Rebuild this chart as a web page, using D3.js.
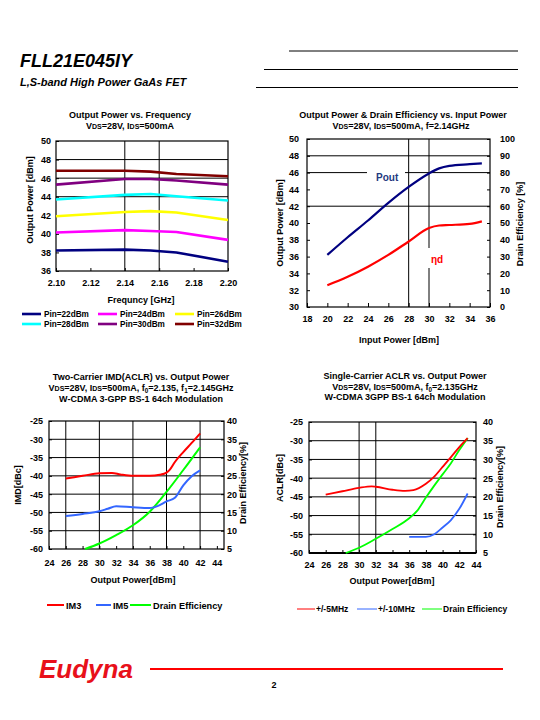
<!DOCTYPE html>
<html><head><meta charset="utf-8">
<script src="https://cdn.jsdelivr.net/npm/d3@7"></script>
<style>
body{margin:0;background:#fff;}
svg text{font-family:"Liberation Sans",Arial,sans-serif;font-weight:bold;fill:#000;}
</style></head><body>
<svg id="c" width="540" height="720"></svg>
<script>
// ---------- Chart 1: Output Power vs. Frequency ----------
const freqGHz = [2.10, 2.14, 2.155, 2.17, 2.20];
const freqTicks = [2.10, 2.12, 2.14, 2.16, 2.18, 2.20];
const pinLabels = ["Pin=22dBm", "Pin=24dBm", "Pin=26dBm", "Pin=28dBm", "Pin=30dBm", "Pin=32dBm"];
const pin22 = [38.2, 38.3, 38.2, 38.0, 37.0];
const pin24 = [40.15, 40.4, 40.3, 40.2, 39.35];
const pin26 = [41.9, 42.35, 42.45, 42.3, 41.5];
const pin28 = [43.7, 44.2, 44.3, 44.05, 43.6];
const pin30 = [45.3, 45.9, 45.9, 45.75, 45.3];
const pin32 = [46.8, 46.8, 46.7, 46.45, 46.2];
const pinColors = ["#000080", "#ff00ff", "#ffff00", "#00ffff", "#800080", "#800000"];

// ---------- Chart 2: Pout & Drain efficiency vs. Input power ----------
const inputPower = [20, 22, 24, 26, 28, 30, 31, 32, 34, 35.2];
const poutDbm = [36.2, 38.3, 40.3, 42.4, 44.3, 45.9, 46.5, 46.8, 47.0, 47.1];
const effPct = [13, 18, 24, 31, 39, 47, 48.5, 48.8, 49.5, 51];
const inputTicks = [18, 20, 22, 24, 26, 28, 30, 32, 34, 36];

// ---------- Chart 3: Two-carrier IMD ----------
const im3X = [26, 28, 30, 31.5, 32.5, 34, 36, 37.2, 38, 38.4, 39, 40, 41, 42];
const im3Y = [-40.7, -40.0, -39.3, -39.2, -39.6, -40.0, -40.0, -39.7, -39.1, -38.3, -36.2, -33.5, -31.0, -28.4];
const im5X = [26, 28, 30, 31, 32, 34, 36, 37, 38, 39, 40, 41, 42];
const im5Y = [-51.0, -50.4, -49.7, -49.0, -48.3, -48.6, -48.8, -48.2, -47.0, -46.0, -42.6, -40.1, -38.5];
const imdEffX = [28.3, 30, 32, 34, 36, 38, 40, 42];
const imdEffY = [5.0, 6.5, 8.8, 11.5, 15.2, 20.6, 26.6, 32.8];

// ---------- Chart 4: Single-carrier ACLR ----------
const aclr5X = [26, 28, 30, 31.5, 32, 34, 35.5, 36.5, 38, 39, 40, 41, 42, 43];
const aclr5Y = [-44.4, -43.5, -42.6, -42.2, -42.3, -43.1, -43.4, -43.2, -41.5, -39.6, -37.0, -34.4, -31.7, -29.3];
const aclr10X = [36, 38, 39, 40, 41, 42, 43];
const aclr10Y = [-55.7, -55.7, -55.0, -53.2, -51.2, -48.2, -44.1];
const aclrEffX = [28.4, 30, 32, 34, 36, 37, 38, 39, 40, 41, 42, 43];
const aclrEffY = [5.0, 6.4, 8.8, 11.4, 14.3, 16.4, 19.8, 23.0, 26.0, 29.0, 32.5, 35.7];

const outTicks = [24, 26, 28, 30, 32, 34, 36, 38, 40, 42, 44];
const aclrTicks = [-60, -55, -50, -45, -40, -35, -30, -25];
const effTicks = [5, 10, 15, 20, 25, 30, 35, 40];

const svg = d3.select("#c");
const zip = (xs, ys) => xs.map((x, i) => [x, ys[i]]);
const plain = d => String(d);

function richText(g, parts, x, y, size, anchor) {
  const t = g.append("text").attr("x", x).attr("y", y).attr("font-size", size)
    .attr("text-anchor", anchor || "middle");
  parts.forEach(p => {
    const ts = t.append("tspan").text(p.t);
    if (p.small) ts.attr("font-size", size * 0.78);
    if (p.sub) ts.attr("font-size", size * 0.7).attr("dy", 2);
    if (p.unsub) ts.attr("dy", -2);
  });
  return t;
}
const VDS = [{t: "V"}, {t: "DS", small: true}, {t: "=28V, I"}, {t: "DS", small: true}, {t: "=500mA"}];

function gridAndFrame(g, x, y, xs, ys, x0, x1, y0, y1) {
  xs.forEach(v => g.append("line").attr("x1", x(v)).attr("x2", x(v)).attr("y1", y0).attr("y2", y1)
    .attr("stroke", "#000").attr("stroke-width", 1));
  ys.forEach(v => g.append("line").attr("x1", x0).attr("x2", x1).attr("y1", y(v)).attr("y2", y(v))
    .attr("stroke", "#000").attr("stroke-width", 1));
}
function frame(g, x0, x1, y0, y1) {
  g.append("rect").attr("x", x0).attr("y", y1).attr("width", x1 - x0).attr("height", y0 - y1)
    .attr("fill", "none").attr("stroke", "#000").attr("stroke-width", 1.2);
}
function styleAxis(a, size) {
  a.select(".domain").remove();
  a.selectAll("line").attr("stroke", "#000");
  a.selectAll("text").attr("font-size", size).attr("font-family", "Liberation Sans, Arial, sans-serif")
    .attr("font-weight", "bold").attr("fill", "#000");
}
function rotLabel(g, text, x, y, size, ang) {
  g.append("text").attr("transform", `translate(${x},${y}) rotate(${ang || -90})`)
    .attr("text-anchor", "middle").attr("font-size", size).text(text);
}

// ===== Header =====
svg.append("text").attr("x", 20).attr("y", 67).attr("font-size", 18).attr("font-style", "italic").text("FLL21E045IY");
svg.append("text").attr("x", 20).attr("y", 86).attr("font-size", 11).attr("font-style", "italic").text("L,S-band High Power GaAs FET");
[[289, 51], [264, 69.5], [256, 87.5]].forEach(([xs, yy]) =>
  svg.append("line").attr("x1", xs).attr("x2", 518).attr("y1", yy).attr("y2", yy).attr("stroke", "#000").attr("stroke-width", 1));

// ===== Chart 1 =====
{
  const g = svg.append("g");
  const X0 = 56, X1 = 228, Y0 = 271, Y1 = 141;
  const x = d3.scaleLinear([2.10, 2.20], [X0, X1]);
  const y = d3.scaleLinear([36, 50], [Y0, Y1]);
  gridAndFrame(g, x, y, [2.14, 2.16], [44, 46, 48], X0, X1, Y0, Y1);
  frame(g, X0, X1, Y0, Y1);
  styleAxis(g.append("g").attr("transform", `translate(0,${Y0})`)
    .call(d3.axisBottom(x).tickValues(freqTicks).tickFormat(d3.format(".2f")).tickSize(-3).tickPadding(9)), 9);
  styleAxis(g.append("g").attr("transform", `translate(${X0},0)`)
    .call(d3.axisLeft(y).tickValues(d3.range(36, 51, 2)).tickFormat(plain).tickSize(-3).tickPadding(5)), 9);
  const series = [pin22, pin24, pin26, pin28, pin30, pin32];
  const line = d3.line().x(d => x(d[0])).y(d => y(d[1]));
  series.forEach((s, i) => g.append("path").attr("d", line(zip(freqGHz, s))).attr("fill", "none")
    .attr("stroke", pinColors[i]).attr("stroke-width", 2.6).attr("stroke-linejoin", "round"));
  richText(g, [{t: "Output Power vs. Frequency"}], 130, 118, 9);
  richText(g, VDS, 130, 129, 9);
  g.append("text").attr("x", 141).attr("y", 303).attr("text-anchor", "middle").attr("font-size", 9).text("Frequncy [GHz]");
  rotLabel(g, "Output Power [dBm]", 33, 200, 9);
  // legend
  const lx = [22, 98, 175], ly = [314, 324];
  pinLabels.forEach((lab, i) => {
    const cx = lx[i % 3], cy = ly[Math.floor(i / 3)];
    g.append("line").attr("x1", cx).attr("x2", cx + 19).attr("y1", cy).attr("y2", cy)
      .attr("stroke", pinColors[i]).attr("stroke-width", 2.6);
    g.append("text").attr("x", cx + 22).attr("y", cy + 3).attr("font-size", 8.2).text(lab);
  });
}

// ===== Chart 2 =====
{
  const g = svg.append("g");
  const X0 = 307, X1 = 490, Y0 = 307, Y1 = 139;
  const x = d3.scaleLinear([18, 36], [X0, X1]);
  const yL = d3.scaleLinear([30, 50], [Y0, Y1]);
  const yR = d3.scaleLinear([0, 100], [Y0, Y1]);
  gridAndFrame(g, x, yL, [28, 30], [42, 46, 48], X0, X1, Y0, Y1);
  frame(g, X0, X1, Y0, Y1);
  styleAxis(g.append("g").attr("transform", `translate(0,${Y0})`)
    .call(d3.axisBottom(x).tickValues(inputTicks).tickFormat(plain).tickSize(-4).tickPadding(9)), 9);
  styleAxis(g.append("g").attr("transform", `translate(${X0},0)`)
    .call(d3.axisLeft(yL).tickValues(d3.range(30, 51, 2)).tickFormat(plain).tickSize(-3).tickPadding(8)), 9);
  styleAxis(g.append("g").attr("transform", `translate(${X1},0)`)
    .call(d3.axisRight(yR).tickValues(d3.range(0, 101, 10)).tickFormat(plain).tickSize(-3).tickPadding(10)), 9);
  // label backgrounds
  g.append("rect").attr("x", 367).attr("y", 168).attr("width", 38).attr("height", 16).attr("fill", "#fff");
  g.append("rect").attr("x", 424).attr("y", 248).attr("width", 22).attr("height", 20).attr("fill", "#fff");
  const lp = d3.line().curve(d3.curveMonotoneX).x(d => x(d[0]));
  g.append("path").attr("d", lp.y(d => yL(d[1]))(zip(inputPower, poutDbm))).attr("fill", "none")
    .attr("stroke", "#000080").attr("stroke-width", 2.2);
  g.append("path").attr("d", lp.y(d => yR(d[1]))(zip(inputPower, effPct))).attr("fill", "none")
    .attr("stroke", "#ff0000").attr("stroke-width", 2.2);
  g.append("text").attr("x", 376).attr("y", 181).attr("font-size", 10).style("fill", "#1f3a80").text("Pout");
  g.append("text").attr("x", 431).attr("y", 263).attr("font-size", 10).style("fill", "#ff0000").text("ηd");
  richText(g, [{t: "Output Power & Drain Efficiency vs. Input Power"}], 403, 118, 9);
  richText(g, VDS.concat([{t: ", f=2.14GHz"}]), 401, 129, 9);
  g.append("text").attr("x", 399).attr("y", 343).attr("text-anchor", "middle").attr("font-size", 9).text("Input Power [dBm]");
  rotLabel(g, "Output Power [dBm]", 283, 223, 9);
  rotLabel(g, "Drain Efficiency [%]", 523, 224, 9);
}

// ===== Chart 3 =====
{
  const g = svg.append("g");
  const X0 = 49, X1 = 224, Y0 = 549, Y1 = 421;
  const x = d3.scaleLinear([24, 44.85], [X0, X1]);
  const yL = d3.scaleLinear([-60, -25], [Y0, Y1]);
  const yR = d3.scaleLinear([5, 40], [Y0, Y1]);
  gridAndFrame(g, x, yL, [26, 30, 34, 38, 42], [-55, -50, -45, -40, -35, -30], X0, X1, Y0, Y1);
  frame(g, X0, X1, Y0, Y1);
  styleAxis(g.append("g").attr("transform", `translate(0,${Y0})`)
    .call(d3.axisBottom(x).tickValues(outTicks).tickFormat(plain).tickSize(-3).tickPadding(11)), 9);
  styleAxis(g.append("g").attr("transform", `translate(${X0},0)`)
    .call(d3.axisLeft(yL).tickValues(aclrTicks).tickFormat(plain).tickSize(-3).tickPadding(6)), 9);
  styleAxis(g.append("g").attr("transform", `translate(${X1},0)`)
    .call(d3.axisRight(yR).tickValues(effTicks).tickFormat(plain).tickSize(-3).tickPadding(3)), 9);
  const lp = d3.line().curve(d3.curveMonotoneX).x(d => x(d[0]));
  g.append("path").attr("d", lp.y(d => yR(d[1]))(zip(imdEffX, imdEffY))).attr("fill", "none").attr("stroke", "#00ff00").attr("stroke-width", 2);
  g.append("path").attr("d", lp.y(d => yL(d[1]))(zip(im5X, im5Y))).attr("fill", "none").attr("stroke", "#3366ff").attr("stroke-width", 2);
  g.append("path").attr("d", lp.y(d => yL(d[1]))(zip(im3X, im3Y))).attr("fill", "none").attr("stroke", "#ff0000").attr("stroke-width", 2);
  richText(g, [{t: "Two-Carrier IMD(ACLR) vs. Output Power"}], 141, 380, 9);
  richText(g, VDS.concat([{t: ", f"}, {t: "0", sub: true}, {t: "=2.135, f", unsub: true}, {t: "1", sub: true}, {t: "=2.145GHz", unsub: true}]), 141, 391, 9);
  richText(g, [{t: "W-CDMA 3-GPP BS-1 64ch Modulation"}], 141, 402, 9);
  g.append("text").attr("x", 133).attr("y", 583).attr("text-anchor", "middle").attr("font-size", 9).text("Output Power[dBm]");
  rotLabel(g, "IMD[dBc]", 21, 485, 9);
  rotLabel(g, "Drain Efficiency[%]", 246, 483, 9);
  const leg = [["IM3", "#ff0000", 47, 64, 66], ["IM5", "#3366ff", 96, 111, 113], ["Drain Efficiency", "#00ff00", 130, 151, 153]];
  leg.forEach(([t, c, a, b, tx]) => {
    g.append("line").attr("x1", a).attr("x2", b).attr("y1", 605).attr("y2", 605).attr("stroke", c).attr("stroke-width", 2);
    g.append("text").attr("x", tx).attr("y", 608.5).attr("font-size", 9.2).text(t);
  });
}

// ===== Chart 4 =====
{
  const g = svg.append("g");
  const X0 = 309, X1 = 476, Y0 = 553, Y1 = 422;
  const x = d3.scaleLinear([24, 44], [X0, X1]);
  const yL = d3.scaleLinear([-60, -25], [Y0, Y1]);
  const yR = d3.scaleLinear([5, 40], [Y0, Y1]);
  gridAndFrame(g, x, yL, [30, 32], [-55, -50, -45, -40, -35, -30], X0, X1, Y0, Y1);
  frame(g, X0, X1, Y0, Y1);
  g.append("line").attr("x1", X0).attr("x2", X1).attr("y1", Y0).attr("y2", Y0).attr("stroke", "#000").attr("stroke-width", 2);
  styleAxis(g.append("g").attr("transform", `translate(0,${Y0})`)
    .call(d3.axisBottom(x).tickValues(outTicks).tickFormat(plain).tickSize(-3).tickPadding(9)), 9);
  styleAxis(g.append("g").attr("transform", `translate(${X0},0)`)
    .call(d3.axisLeft(yL).tickValues(aclrTicks).tickFormat(plain).tickSize(-3).tickPadding(6)), 9);
  styleAxis(g.append("g").attr("transform", `translate(${X1},0)`)
    .call(d3.axisRight(yR).tickValues(effTicks).tickFormat(plain).tickSize(-3).tickPadding(7)), 9);
  const lp = d3.line().curve(d3.curveMonotoneX).x(d => x(d[0]));
  g.append("path").attr("d", lp.y(d => yR(d[1]))(zip(aclrEffX, aclrEffY))).attr("fill", "none").attr("stroke", "#00ff00").attr("stroke-width", 1.8);
  g.append("path").attr("d", lp.y(d => yL(d[1]))(zip(aclr10X, aclr10Y))).attr("fill", "none").attr("stroke", "#3366ff").attr("stroke-width", 1.8);
  g.append("path").attr("d", lp.y(d => yL(d[1]))(zip(aclr5X, aclr5Y))).attr("fill", "none").attr("stroke", "#ff0000").attr("stroke-width", 1.8);
  richText(g, [{t: "Single-Carrier ACLR vs. Output Power"}], 405, 379, 9);
  richText(g, VDS.concat([{t: ", f"}, {t: "0", sub: true}, {t: "=2.135GHz", unsub: true}]), 405, 389.5, 9);
  richText(g, [{t: "W-CDMA 3GPP BS-1 64ch Modulation"}], 405, 400, 9);
  g.append("text").attr("x", 392).attr("y", 584).attr("text-anchor", "middle").attr("font-size", 9).text("Output Power[dBm]");
  rotLabel(g, "ACLR[dBc]", 283, 478, 9);
  rotLabel(g, "Drain Efficiency[%]", 503, 487, 9);
  const leg = [["+/-5MHz", "#ff0000", 297, 315, 316], ["+/-10MHz", "#3366ff", 357, 377, 378], ["Drain Efficiency", "#00ff00", 422, 442, 443]];
  leg.forEach(([t, c, a, b, tx]) => {
    g.append("line").attr("x1", a).attr("x2", b).attr("y1", 609).attr("y2", 609).attr("stroke", c).attr("stroke-width", 1);
    g.append("text").attr("x", tx).attr("y", 611.5).attr("font-size", 8.5).text(t);
  });
}

// ===== Footer =====
svg.append("text").attr("x", 39).attr("y", 678).attr("font-size", 26).attr("font-style", "italic")
  .style("fill", "#e8101a").text("Eudyna");
svg.append("line").attr("x1", 150).attr("x2", 503).attr("y1", 669).attr("y2", 669).attr("stroke", "#ff0000").attr("stroke-width", 2);
svg.append("text").attr("x", 274).attr("y", 688).attr("text-anchor", "middle").attr("font-size", 9).text("2");
</script>
</body></html>
